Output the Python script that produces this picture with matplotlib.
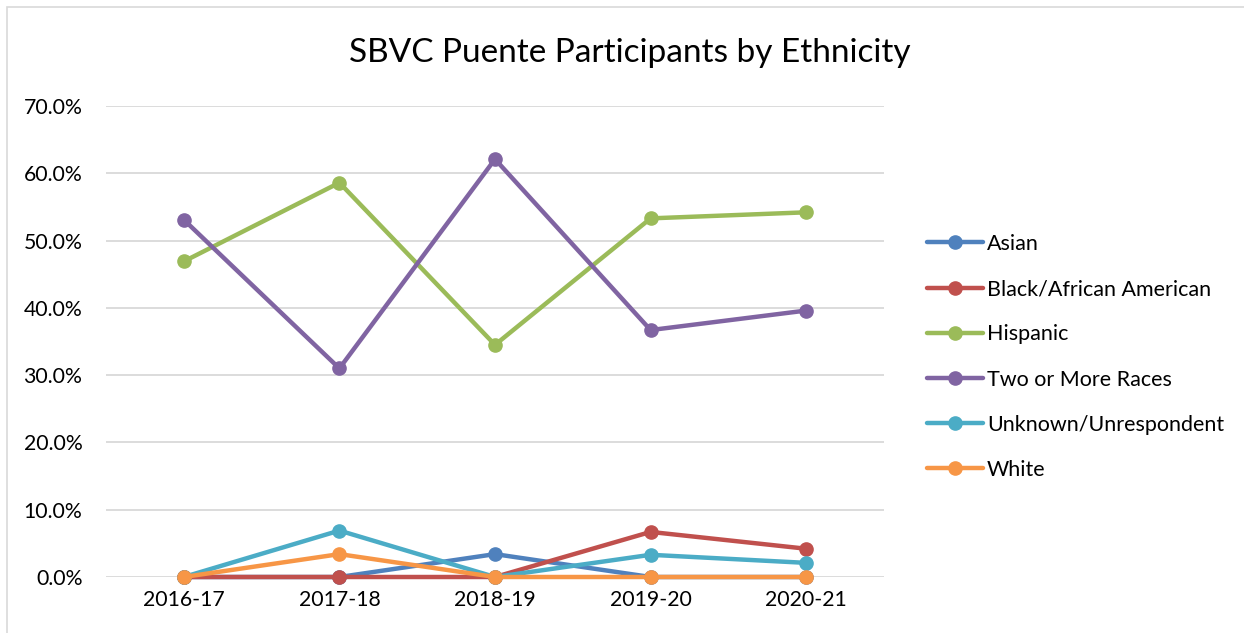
import matplotlib
matplotlib.use("Agg")
import matplotlib.pyplot as plt
from matplotlib.patches import Rectangle
from matplotlib.ticker import FuncFormatter, MultipleLocator

years = ["2016-17", "2017-18", "2018-19", "2019-20", "2020-21"]
asian = [0.0, 0.0, 3.4, 0.0, 0.0]
black = [0.0, 0.0, 0.0, 6.7, 4.2]
hispanic = [46.9, 58.6, 34.5, 53.3, 54.2]
two_or_more = [53.1, 31.0, 62.1, 36.7, 39.6]
unknown = [0.0, 6.9, 0.0, 3.3, 2.1]
white = [0.0, 3.4, 0.0, 0.0, 0.0]

series = [
    ("Asian", asian, "#4F81BD"),
    ("Black/African American", black, "#C0504D"),
    ("Hispanic", hispanic, "#9BBB59"),
    ("Two or More Races", two_or_more, "#8064A2"),
    ("Unknown/Unrespondent", unknown, "#4BACC6"),
    ("White", white, "#F79646"),
]

plt.rcParams['font.family'] = ['Lato', 'DejaVu Sans']

W, H = 1244, 633
fig = plt.figure(figsize=(W / 100, H / 100), dpi=100)
fig.patches.append(Rectangle((7 / W, -0.1), 2, (1 - 7 / H) + 0.1, transform=fig.transFigure,
                             fill=False, edgecolor="#D9D9D9", linewidth=1.2))

ax = fig.add_axes([106 / W, 56 / H, 778 / W, 471 / H])
x = list(range(len(years)))
for name, vals, col in series:
    ax.plot(x, vals, color=col, linewidth=3.2, marker="o", markersize=9.5,
            label=name, solid_capstyle="round", clip_on=False)

ax.set_xlim(-0.5, len(years) - 0.5)
ax.set_ylim(0, 70)
ax.yaxis.set_major_locator(MultipleLocator(10))
ax.yaxis.set_major_formatter(FuncFormatter(lambda v, p: f"{v:.1f}%"))
ax.set_xticks(x)
ax.set_xticklabels(years)
ax.grid(axis="y", color="#D9D9D9", linewidth=1.3)
ax.set_axisbelow(True)
for s in ax.spines.values():
    s.set_visible(False)
ax.tick_params(axis="both", length=0, labelsize=15.3, colors="#000000")
ax.tick_params(axis="y", pad=17)
ax.tick_params(axis="x", pad=9)

fig.text(630 / W, 1 - 53 / H, "SBVC Puente Participants by Ethnicity", ha="center", va="center",
         fontsize=24)

leg = ax.legend(loc="center left", bbox_to_anchor=(918 / W, 1 - 357 / H), bbox_transform=fig.transFigure,
                frameon=False, fontsize=15.5, labelspacing=1.17, handlelength=2.6,
                handletextpad=0.2, borderaxespad=0)

fig.savefig("out.png", dpi=100)
